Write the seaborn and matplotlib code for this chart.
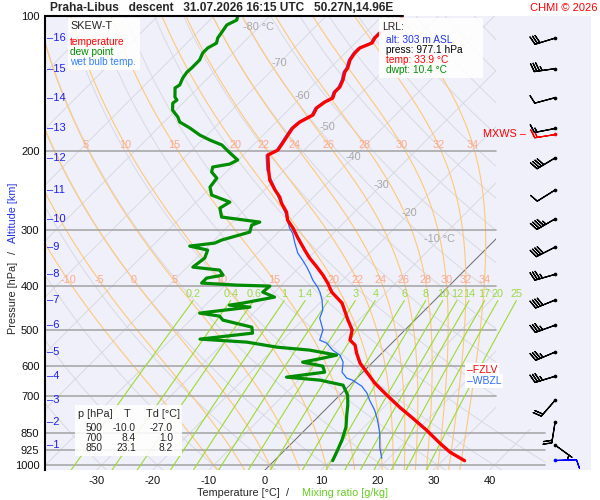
import numpy as np
import matplotlib
matplotlib.use("Agg")
import matplotlib.pyplot as plt
import seaborn as sns
from matplotlib.patches import Polygon, Rectangle
from matplotlib.ticker import NullLocator

# ---------------- sounding values ----------------
temp_p = [99.5, 102.1, 106.3, 109.1, 111.9, 114.8, 117.8, 120.9, 125.3, 130.5,
          133.2, 138.8, 143.9, 147.7, 152.3, 155.4, 160.3, 166.1, 172.2, 177.6,
          184.1, 191.8, 198.8, 204.0, 220.3, 231.9, 244.0, 253.0, 261.0, 273.3,
          284.7, 296.7, 310.7, 332.0, 345.9, 362.2, 377.4, 393.3, 411.8, 435.7,
          475.5, 500.2, 526.6, 540.3, 563.0, 592.6, 620.7, 656.7, 698.5, 742.8,
          785.9, 835.7, 893.5, 935.4, 977.1]
temp_t = [-56.5, -56.1, -56.9, -57.4, -57.4, -57.0, -58.3, -58.3, -57.9, -56.9,
          -56.7, -55.6, -54.9, -54.9, -54.2, -54.9, -55.3, -54.7, -55.8, -56.0,
          -55.6, -55.1, -54.7, -55.6, -52.8, -50.8, -48.1, -46.0, -44.6, -42.1,
          -40.5, -38.1, -35.7, -32.1, -29.8, -26.9, -24.4, -22.1, -19.8, -16.0,
          -11.9, -9.4, -8.0, -6.2, -4.5, -2.1, 0.7, 4.1, 8.4, 12.8,
          17.1, 21.7, 26.4, 29.8, 33.9]

dwpt_p = [99.5, 102.1, 104.7, 108.6, 111.9, 114.9, 117.8, 120.9, 125.3, 130.6,
          133.3, 137.4, 142.4, 144.6, 151.5, 153.9, 156.3, 162.0, 167.9, 172.2,
          177.6, 184.1, 188.9, 193.7, 201.9, 209.2, 213.6, 216.9, 222.5, 229.5,
          240.4, 250.4, 259.6, 267.7, 280.3, 287.6, 292.1, 302.7, 315.4, 320.3,
          325.3, 332.0, 345.9, 362.3, 367.9, 377.4, 383.3, 393.2, 397.3, 399.3,
          411.8, 422.5, 435.7, 440.2, 444.7, 458.6, 465.8, 475.4, 492.8, 508.2,
          524.0, 532.2, 546.0, 554.4, 568.9, 577.7, 589.7, 601.9, 620.7, 636.8,
          646.7, 663.5, 698.4, 735.1, 773.8, 822.9, 879.7, 926.0, 977.1]
dwpt_t = [-85.9, -85.2, -86.1, -85.7, -85.4, -84.7, -85.4, -85.4, -84.7, -84.7,
          -84.8, -84.5, -83.8, -84.1, -82.5, -81.6, -81.8, -80.6, -78.4, -77.2,
          -74.3, -71.3, -68.6, -65.6, -62.7, -60.1, -60.8, -63.3, -62.6, -60.6,
          -60.2, -58.5, -54.0, -54.7, -52.8, -45.1, -46.0, -45.1, -48.7, -49.4,
          -53.3, -49.4, -48.5, -49.0, -43.7, -42.2, -44.6, -44.6, -38.0, -31.9,
          -32.1, -29.1, -33.7, -35.7, -31.7, -39.6, -35.5, -34.2, -27.8, -26.6,
          -34.9, -26.0, -19.8, -13.4, -7.7, -9.6, -12.5, -8.2, -6.8, -12.7,
          -6.2, -1.2, 1.4, 3.2, 4.8, 6.8, 8.4, 9.4, 10.4]

wetb_p = [109.1, 111.9, 114.8, 117.8, 120.9, 125.3, 130.5, 133.2, 138.8, 143.9,
          147.7, 152.3, 155.4, 160.3, 166.1, 172.2, 177.6, 184.1, 191.8, 198.8,
          204.0, 220.3, 228.3, 240.3, 253.0, 263.6, 273.3, 281.8, 296.7, 304.2,
          320.3, 337.2, 349.5, 362.2, 373.5, 387.3, 401.5, 411.8, 429.0, 451.6,
          470.6, 500.2, 526.6, 534.9, 554.4, 568.9, 589.6, 620.7, 640.0, 646.7,
          666.9, 691.4, 716.6, 754.5, 794.3, 848.8, 912.1, 964.7]
wetb_t = [-57.7, -57.7, -57.3, -58.6, -58.6, -58.2, -57.2, -57.0, -55.9, -55.2,
          -55.2, -54.5, -55.2, -55.6, -55.0, -56.1, -56.3, -55.9, -55.4, -55.0,
          -55.9, -53.1, -51.3, -48.7, -46.3, -44.2, -42.4, -41.0, -38.7, -37.3,
          -35.1, -32.8, -30.7, -28.7, -27.1, -25.3, -23.2, -21.9, -20.1, -18.2,
          -17.3, -14.6, -13.4, -11.6, -9.3, -7.1, -5.3, -3.7, -1.8, -0.4,
          2.3, 4.5, 6.2, 8.9, 11.2, 13.9, 16.4, 18.7]

# altitude marks [km] and the pressure they sit at; winds come at the same levels
alt_km = [16, 15, 14, 13, 12, 11, 10, 9, 8, 7, 6, 5, 4, 3, 2, 1]
alt_p = [112, 131, 152, 178, 207, 244, 283, 327, 376, 429, 488, 560, 634, 717, 802, 902]
wind_dir = [253, 262, 255, 259, 239, 238, 240, 243, 254, 248, 250, 247, 253, 221, 189, 126]
wind_kt = [30, 35, 10, 15, 40, 10, 45, 40, 35, 40, 35, 35, 35, 20, 20, 5]

mxws_p, mxws_dir, mxws_kt = 183, 261, 15
sfc_p, sfc_dir, sfc_kt = 975, 88, 10

lrl_alt, lrl_press, lrl_temp, lrl_dwpt = 303, 977.1, 33.9, 10.4

tab_p = [500, 700, 850]
tab_t = [-10.0, 8.4, 23.1]
tab_td = [-27.0, 1.0, 8.2]

p_lines = [200, 300, 400, 500, 600, 700, 850, 925, 1000]
p_ticks = [100, 200, 300, 400, 500, 600, 700, 850, 925, 1000]
t_ticks = [-30, -20, -10, 0, 10, 20, 30, 40]
iso_lab_t = [-80, -70, -60, -50, -40, -30, -20, -10]
iso_lab_p = [106, 127, 151, 177, 206, 238, 275, 314]
thw_vals = [-10, -5, 0, 5, 10, 15, 20, 22, 24, 26, 28, 30, 32, 34]
mix_vals = [0.2, 0.4, 0.6, 1, 1.4, 2, 3, 4, 6, 8, 10, 12, 14, 17, 20, 25]

# ---------------- skew-T geometry ----------------
P_BOT, P_TOP = 1025, 100
SKEW = 34.76          # 45 degree isotherms
X_MIN, X_MAX = -39.2, 58.1
X_EDGE, X_EDGE_LOW = 41.2, 49.9
BARB_X = 51.7


def skx(t, p):
    return np.asarray(t, float) + SKEW * np.log(P_BOT / np.asarray(p, float))


def dewpoint_from_mix(w, p):
    e = w * p / (622.0 + w)
    a = np.log(e / 6.112)
    return 243.5 * a / (17.67 - a)


def moist_lapse(t, p):
    rd, cp, lv, eps = 287.04, 1005.7, 2.501e6, 0.622
    tc = t - 273.15
    es = 6.112 * np.exp(17.67 * tc / (tc + 243.5))
    rs = eps * es / (p - es)
    return (rd * t + lv * rs) / (p * (cp + lv * lv * rs * eps / (rd * t * t)))


def moist_adiabats(tw, pgrid):
    t = np.asarray(tw, float) + 273.15
    out = [t.copy()]
    for p0, p1 in zip(pgrid[:-1], pgrid[1:]):
        h = p1 - p0
        k1 = moist_lapse(t, p0)
        k2 = moist_lapse(t + h / 2 * k1, p0 + h / 2)
        k3 = moist_lapse(t + h / 2 * k2, p0 + h / 2)
        k4 = moist_lapse(t + h * k3, p1)
        t = t + h / 6 * (k1 + 2 * k2 + 2 * k3 + k4)
        out.append(t.copy())
    return np.array(out) - 273.15


def zero_level(t, p):
    # lowest crossing of 0 degC, searching upward from the ground
    for i in range(len(t) - 1, 0, -1):
        if t[i] >= 0 > t[i - 1]:
            f = t[i] / (t[i] - t[i - 1])
            return np.exp(np.log(p[i]) + f * (np.log(p[i - 1]) - np.log(p[i])))
    return None


sns.set_theme(style="white")
plt.rcParams["font.family"] = ["Liberation Sans", "DejaVu Sans"]

fig = plt.figure(figsize=(6, 5), dpi=100)
ax = fig.add_axes([45 / 600, 30 / 500, 546 / 600, 454 / 500])
ax.set_facecolor("#f0f0fb")
ax.set_yscale("log")
ax.set_xlim(X_MIN, X_MAX)
ax.set_ylim(P_BOT, P_TOP)

clip = Polygon([[X_MIN, P_TOP], [X_EDGE, P_TOP], [X_EDGE, 830], [X_EDGE_LOW, 830],
                [X_EDGE_LOW, P_BOT], [X_MIN, P_BOT]], closed=True,
               transform=ax.transData, facecolor="none", edgecolor="none")
ax.add_patch(clip)

pp = np.geomspace(P_TOP, P_BOT, 80)
# isotherms and dry adiabats
for t in np.arange(-130, 60, 10):
    ln, = ax.plot(skx(t, pp), pp, color="#d9d9e0", lw=0.7, zorder=1)
    ln.set_clip_path(clip)
for th in np.arange(-30, 240, 10):
    tt = (th + 273.15) * (pp / 1000.0) ** 0.2857 - 273.15
    ln, = ax.plot(skx(tt, pp), pp, color="#d9d9e0", lw=0.7, zorder=1)
    ln.set_clip_path(clip)
ln, = ax.plot(skx(0, pp), pp, color="#707070", lw=0.7, zorder=1.2)
ln.set_clip_path(clip)

# moist adiabats
p_up = np.linspace(1000, P_TOP, 361)
p_dn = np.linspace(1000, P_BOT, 11)
ma_up = moist_adiabats(thw_vals, p_up)
ma_dn = moist_adiabats(thw_vals, p_dn)
p_ma = np.concatenate([p_dn[::-1], p_up[1:]])
for i, tw in enumerate(thw_vals):
    tt = np.concatenate([ma_dn[::-1, i], ma_up[1:, i]])
    xx = skx(tt, p_ma)
    ln, = ax.plot(xx, p_ma, color="#ffc878", lw=0.8, zorder=1.3)
    ln.set_clip_path(clip)
    for plab in (194, 388):
        xl = np.interp(np.log(plab), np.log(p_ma[::-1]), xx[::-1])
        if X_MIN + 1.5 < xl < X_EDGE - 0.5:
            ax.text(xl, plab, f"{tw:g}", color="#fba98c", fontsize=7.8,
                    ha="center", va="center", zorder=3)

# isotherm labels
for t, p in zip(iso_lab_t, iso_lab_p):
    lab = f"{t} °C" if t in (-80, -10) else f"{t}"
    ax.text(skx(t, p), p, lab, color="#a8a8a8", fontsize=7.8, ha="center",
            va="center", zorder=3)

# pressure lines
for p in p_lines:
    xr = X_EDGE_LOW if p >= 850 else X_EDGE
    ax.plot([X_MIN, xr], [p, p], color="#a9a9a9", lw=1.2, zorder=1.5)

# mixing ratio lines
mp = np.geomspace(430, P_BOT, 30)
for w in mix_vals:
    td = dewpoint_from_mix(w, mp)
    ax.plot(skx(td, mp), mp, color="#9cda30", lw=0.8, zorder=2)
    ax.text(skx(td[0], 430), 426, f"{w:g}", color="#9cda44", fontsize=7.8,
            ha="center", va="bottom", zorder=3)

# profiles
sns.lineplot(x=skx(wetb_t, wetb_p), y=wetb_p, sort=False, estimator=None,
             color="#2a6cff", lw=0.9, ax=ax, zorder=4)
sns.lineplot(x=skx(dwpt_t, dwpt_p), y=dwpt_p, sort=False, estimator=None,
             color="#008c00", lw=2.3, ax=ax, zorder=4.5)
sns.lineplot(x=skx(temp_t[:4], temp_p[:4]), y=temp_p[:4], sort=False, estimator=None,
             color="#ffb0b0", lw=2.3, ax=ax, zorder=4.6)
sns.lineplot(x=skx(temp_t[3:], temp_p[3:]), y=temp_p[3:], sort=False, estimator=None,
             color="#ff0000", lw=2.4, ax=ax, zorder=4.7)

# top border up to the top of the temperature curve
ax.plot([X_MIN, skx(temp_t[0], temp_p[0])], [P_TOP, P_TOP], color="black", lw=1.5,
        clip_on=False, zorder=6)

# freezing levels
fzl_p = zero_level(temp_t, temp_p)
wbz_p = zero_level(wetb_t, wetb_p)
ax.text(36.0, fzl_p, "–FZLV", color="red", fontsize=7.5, ha="left", va="center",
        bbox=dict(facecolor="white", edgecolor="none", pad=1.2), zorder=5)
ax.text(36.0, wbz_p, "–WBZL", color="#2a6cff", fontsize=7.5, ha="left", va="center",
        bbox=dict(facecolor="white", edgecolor="none", pad=1.2), zorder=5)

# altitude marks
for km, p in zip(alt_km, alt_p):
    ax.text(X_MIN + 0.3, p, f"–{km}", color="#2020ee", fontsize=8, ha="left",
            va="center", zorder=3)

# winds
wd = np.radians(wind_dir)
u = -np.array(wind_kt) * np.sin(wd)
v = -np.array(wind_kt) * np.cos(wd)
bx = np.full(len(alt_p), BARB_X)
ax.barbs(bx, alt_p, u, v, length=5.5, lw=0.9, color="black", zorder=6)
ax.scatter(bx, alt_p, s=7, color="black", zorder=7, linewidths=0)
for p, d, s, c in [(mxws_p, mxws_dir, mxws_kt, "red"), (sfc_p, sfc_dir, sfc_kt, "#0000ff")]:
    r = np.radians(d)
    ax.barbs([BARB_X], [p], [-s * np.sin(r)], [-s * np.cos(r)], length=5.5, lw=0.9,
             color=c, zorder=6)
    ax.scatter([BARB_X], [p], s=7, color=c, zorder=7, linewidths=0)
ax.text(38.9, mxws_p, "MXWS –", color="red", fontsize=7.8, ha="left", va="center",
        zorder=5)

# axes cosmetics
ax.set_yticks(p_ticks)
ax.set_yticklabels([str(p) for p in p_ticks])
ax.yaxis.set_minor_locator(NullLocator())
ax.set_xticks(t_ticks)
ax.set_xticklabels([str(t) for t in t_ticks])
ax.tick_params(axis="both", length=0, labelsize=8, colors="#111111")
ax.tick_params(axis="y", pad=4)
ax.tick_params(axis="x", pad=4)
ax.set_xlabel("")
ax.set_ylabel("")
for side in ("top", "right", "bottom"):
    ax.spines[side].set_visible(False)
ax.spines["left"].set_color("black")
ax.spines["left"].set_linewidth(1.5)


def fx(px):
    return px / 600


def fy(py):
    return 1 - py / 500


def box(x0, y0, x1, y1):
    fig.add_artist(Rectangle((fx(x0), fy(y1)), (x1 - x0) / 600, (y1 - y0) / 500,
                             transform=fig.transFigure, facecolor="white",
                             edgecolor="none", alpha=0.88, zorder=10))


# title
fig.text(fx(50), fy(8), "Praha-Libus   descent   31.07.2026 16:15 UTC   50.27N,14.96E",
         fontsize=8.6, fontweight="bold", va="center", ha="left")
fig.text(fx(597), fy(8), "CHMI © 2026", color="red", fontsize=8, va="center", ha="right")

# legend box
box(68, 18, 140, 70)
fig.text(fx(70), fy(26), "SKEW-T", fontsize=7.8, va="center", zorder=11)
for y, s, c in [(42, "temperature", "red"), (52, "dew point", "#009000"),
                (62, "wet bulb temp.", "#3380ff")]:
    fig.text(fx(70), fy(y), s, color=c, fontsize=7.3, va="center", zorder=11)

# LRL box
box(379, 18, 483, 78)
fig.text(fx(382), fy(27), "LRL:", fontsize=7.5, va="center", zorder=11)
for y, s, c in [(40, f"alt: {lrl_alt} m ASL", "#2233ee"),
                (50, f"press: {lrl_press:.1f} hPa", "black"),
                (60, f"temp: {lrl_temp:.1f} °C", "red"),
                (70, f"dwpt: {lrl_dwpt:.1f} °C", "#009000")]:
    fig.text(fx(386), fy(y), s, color=c, fontsize=7.3, va="center", zorder=11)

# level table
box(75, 405, 182, 456)
fig.text(fx(78), fy(414), "p [hPa]", fontsize=7.8, va="center", zorder=11)
fig.text(fx(127), fy(414), "T", fontsize=7.8, va="center", ha="center", zorder=11)
fig.text(fx(146), fy(414), "Td [°C]", fontsize=7.8, va="center", zorder=11)
for i, (p, t, td) in enumerate(zip(tab_p, tab_t, tab_td)):
    y = 428 + 10 * i
    fig.text(fx(102), fy(y), f"{p}", fontsize=7.3, va="center", ha="right", zorder=11)
    fig.text(fx(136), fy(y), f"{t:.1f}", fontsize=7.3, va="center", ha="right", zorder=11)
    fig.text(fx(173), fy(y), f"{td:.1f}", fontsize=7.3, va="center", ha="right", zorder=11)

# axis titles
fig.text(fx(238), fy(493), "Temperature [°C]", fontsize=7.8, ha="center", va="center")
fig.text(fx(288), fy(493), "/", fontsize=7.8, ha="center", va="center")
fig.text(fx(345), fy(493), "Mixing ratio [g/kg]", color="#66cc22", fontsize=7.8,
         ha="center", va="center")
fig.text(fx(13), fy(298), "Pressure [hPa]", fontsize=7.8, rotation=90, ha="center", va="center")
fig.text(fx(13), fy(253), "/", fontsize=7.8, rotation=90, ha="center", va="center")
fig.text(fx(13), fy(213), "Altitude [km]", color="#2233ee", fontsize=7.8, rotation=90,
         ha="center", va="center")

fig.savefig("out.png", dpi=100)
